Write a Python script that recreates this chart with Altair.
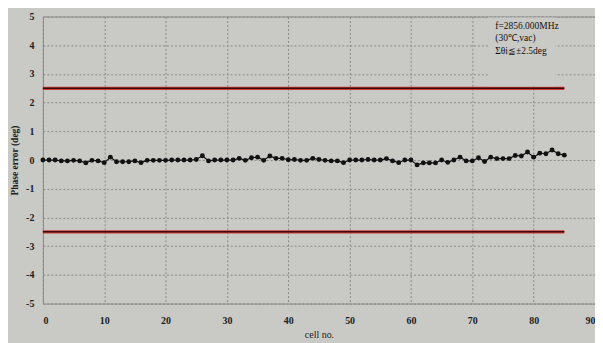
import altair as alt
import pandas as pd

cells = list(range(86))
phase_err = [
    0.0, 0.0, 0.0, -0.03, -0.03, -0.01, -0.03, -0.1, -0.01, -0.03,
    -0.09, 0.1, -0.06, -0.06, -0.06, -0.03, -0.09, -0.01, -0.01, -0.01,
    -0.01, 0.0, 0.0, 0.0, 0.0, 0.02, 0.15, -0.03, 0.0, 0.0,
    0.0, 0.0, 0.06, -0.01, 0.08, 0.1, -0.01, 0.14, 0.06, 0.06,
    0.01, 0.02, -0.01, -0.01, 0.06, 0.02, -0.01, -0.03, -0.03, -0.09,
    0.0, 0.0, 0.0, 0.02, 0.0, 0.0, 0.05, -0.03, -0.09, 0.0,
    0.0, -0.17, -0.1, -0.1, -0.1, 0.0, -0.08, 0.0, 0.1, -0.03,
    -0.03, 0.08, -0.05, 0.1, 0.05, 0.05, 0.05, 0.16, 0.14, 0.28,
    0.1, 0.24, 0.22, 0.35, 0.22, 0.17,
]
limit_vals = [2.5, -2.5]
limit_start = [0, 0]
limit_end = [85, 85]
y_ticks = list(range(-5, 6))
x_ticks = list(range(0, 91, 10))
annot_lines = ["f=2856.000MHz", "(30\u2103,vac)", "\u03a3\u03b8i\u2266\u00b12.5deg"]

BG = "#c9c9c5"
FONT = "Liberation Serif"

df = pd.DataFrame({"cell": cells, "err": phase_err})
lim = pd.DataFrame({"x": limit_start, "x2": limit_end, "y": limit_vals})

xs = alt.Scale(domain=[0, 90], nice=False)
ys = alt.Scale(domain=[-5, 5], nice=False)

xaxis = alt.Axis(values=x_ticks, title="cell no.", grid=True,
                 gridDash=[2, 2], gridColor="#8a8a8a", gridWidth=1,
                 ticks=False, domain=False, labelPadding=12, labelOverlap=False,
                 labelFont=FONT, labelFontSize=10, labelFontWeight="bold",
                 labelColor="#222", titleFont=FONT, titleFontSize=10,
                 titleFontWeight="normal", titleColor="#222", titlePadding=4)
yaxis = alt.Axis(values=y_ticks, title="Phase error (deg)", grid=True,
                 gridDash=[2, 2], gridColor="#8a8a8a", gridWidth=1,
                 ticks=False, domain=False, labelPadding=9, labelOverlap=False,
                 labelExpr="datum.value + ''",
                 labelFont=FONT, labelFontSize=10, labelFontWeight="bold",
                 labelColor="#222", titleFont=FONT, titleFontSize=9.5,
                 titleFontWeight="bold", titleColor="#222", titlePadding=6)

base_line = alt.Chart(df).mark_line(color="#111", strokeWidth=1.2).encode(
    x=alt.X("cell:Q", scale=xs, axis=xaxis),
    y=alt.Y("err:Q", scale=ys, axis=yaxis),
)
pts = alt.Chart(df).mark_circle(color="#111", size=24, opacity=1).encode(
    x=alt.X("cell:Q", scale=xs, axis=xaxis),
    y=alt.Y("err:Q", scale=ys, axis=yaxis),
)
lim_red = alt.Chart(lim).mark_rule(color="#d23a3a", strokeWidth=3.2).encode(
    x=alt.X("x:Q", scale=xs, axis=xaxis), x2="x2:Q",
    y=alt.Y("y:Q", scale=ys, axis=yaxis)
)
lim_dark = alt.Chart(lim).mark_rule(color="#3a0c0c", strokeWidth=1.6).encode(
    x=alt.X("x:Q", scale=xs, axis=xaxis), x2="x2:Q",
    y=alt.Y("y:Q", scale=ys, axis=yaxis)
)
box = alt.Chart(pd.DataFrame({"a": [0]})).mark_rect(color=BG).encode(
    x=alt.value(447), x2=alt.value(514), y=alt.value(1), y2=alt.value(70)
)
annot = alt.Chart(pd.DataFrame({"t": [annot_lines]})).mark_text(
    align="left", baseline="top", font=FONT, fontSize=9.5, color="#111",
    lineHeight=13
).encode(x=alt.value(454), y=alt.value(4), text="t")

chart = alt.layer(base_line, lim_red, lim_dark, pts, box, annot).properties(
    width=554, height=288,
    autosize=alt.AutoSizeParams(type="none"),
    padding={"left": 35, "top": 8, "right": 0, "bottom": 39},
    background=BG,
).configure_view(stroke="#8a8a8a", strokeWidth=1, fill=BG)

chart.save("out.html", embed_options={"renderer": "svg", "actions": False})
